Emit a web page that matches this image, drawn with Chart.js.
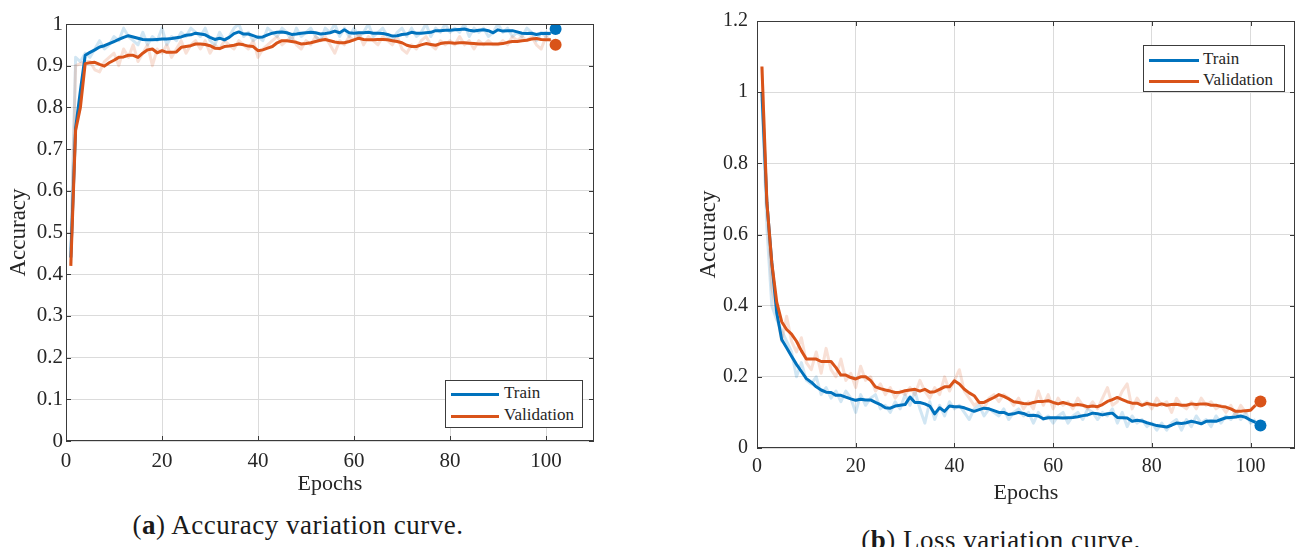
<!DOCTYPE html>
<html><head><meta charset="utf-8">
<script src="https://cdn.jsdelivr.net/npm/chart.js@4.4.1/dist/chart.umd.min.js"></script>
<style>
body{margin:0;background:#fff;width:1301px;height:547px;overflow:hidden;position:relative;font-family:'Liberation Serif',serif;}
canvas{position:absolute;}
.legend{position:absolute;border:1px solid #3c3c3c;background:#fff;font-size:17px;color:#262626;box-sizing:border-box;}
.legend .row{position:absolute;height:20px;line-height:20px;white-space:nowrap;}
.legend .swatch{position:absolute;height:3px;}
.caption{position:absolute;font-family:'Liberation Serif',serif;font-size:27px;letter-spacing:0.5px;color:#1a1a1a;white-space:nowrap;transform:translateX(-50%);}
</style></head><body>
<canvas id="accChart" width="620" height="500" style="left:0;top:0"></canvas>
<canvas id="lossChart" width="604" height="510" style="left:697px;top:0"></canvas>
<div id="accLegend" class="legend" style="left:445px;top:380px;width:138px;height:48px"></div>
<div id="lossLegend" class="legend" style="left:1143px;top:45px;width:142px;height:47px"></div>
<div class="caption" style="left:298px;top:510px">(<b>a</b>) Accuracy variation curve.</div>
<div class="caption" style="left:1001px;top:525px">(<b>b</b>) Loss variation curve.</div>
<script>
// ---------- data ----------
const epochs = Array.from({length: 101}, (_, i) => i + 1);
const seriesNames = ['Train', 'Validation'];
const xTicks = [0, 20, 40, 60, 80, 100];
const accTicks = [0, 0.1, 0.2, 0.3, 0.4, 0.5, 0.6, 0.7, 0.8, 0.9, 1];
const lossTicks = [0, 0.2, 0.4, 0.6, 0.8, 1, 1.2];
const finalEpoch = 102;

const trainAcc = [0.44,0.75,0.84,0.925,0.932,0.938,0.945,0.948,0.953,0.958,0.963,0.968,0.972,0.969,0.966,0.963,0.962,0.962,0.963,0.964,
0.964,0.965,0.967,0.969,0.973,0.974,0.978,0.976,0.974,0.968,0.963,0.966,0.962,0.968,0.977,0.981,0.976,0.976,0.972,0.968,
0.969,0.974,0.978,0.98,0.981,0.979,0.975,0.976,0.978,0.979,0.98,0.979,0.976,0.977,0.979,0.983,0.979,0.986,0.979,0.978,
0.979,0.979,0.98,0.978,0.978,0.977,0.975,0.971,0.972,0.975,0.976,0.98,0.978,0.978,0.979,0.98,0.984,0.984,0.985,0.985,
0.986,0.987,0.988,0.985,0.983,0.985,0.986,0.984,0.979,0.986,0.983,0.984,0.984,0.981,0.978,0.977,0.978,0.975,0.977,0.978,0.977];
const valAcc = [0.42,0.745,0.80,0.905,0.907,0.908,0.903,0.899,0.907,0.913,0.92,0.921,0.925,0.925,0.92,0.93,0.938,0.94,0.931,0.936,
0.932,0.932,0.933,0.944,0.946,0.948,0.952,0.952,0.951,0.948,0.942,0.941,0.946,0.947,0.949,0.952,0.95,0.947,0.946,0.936,
0.938,0.942,0.946,0.955,0.96,0.96,0.958,0.956,0.952,0.953,0.955,0.958,0.961,0.963,0.96,0.957,0.955,0.955,0.958,0.962,
0.966,0.963,0.962,0.962,0.963,0.963,0.962,0.96,0.958,0.955,0.949,0.946,0.946,0.95,0.953,0.951,0.949,0.953,0.955,0.955,
0.954,0.955,0.955,0.954,0.953,0.952,0.952,0.952,0.952,0.952,0.953,0.956,0.958,0.958,0.96,0.961,0.964,0.965,0.963,0.962,0.962];
const trainAccRaw = [0.46,0.92,0.91,0.93,0.92,0.94,0.96,0.94,0.95,0.97,0.96,0.99,0.97,0.96,0.95,0.98,0.95,0.97,0.96,0.99,
0.95,0.97,0.96,0.98,0.97,0.99,0.98,0.97,0.99,0.96,0.95,0.98,0.96,0.97,0.99,1.0,0.97,0.98,0.96,0.97,
0.96,0.99,0.98,0.97,0.99,0.98,0.96,0.99,0.97,0.98,0.99,0.97,0.96,0.99,0.98,1.0,0.97,0.99,0.97,0.99,
0.97,0.98,1.0,0.97,0.98,0.99,0.97,0.96,0.98,0.99,0.97,0.99,0.97,0.98,1.0,0.97,0.99,0.98,1.0,0.98,
0.99,0.98,1.0,0.97,0.99,0.98,0.99,0.97,0.98,1.0,0.98,0.99,0.97,0.98,0.97,0.99,0.98,0.96,0.98,0.97,0.98];
const valAccRaw = [0.42,0.90,0.905,0.91,0.91,0.89,0.885,0.91,0.92,0.93,0.90,0.94,0.92,0.95,0.91,0.93,0.95,0.90,0.94,0.93,
0.95,0.92,0.94,0.96,0.93,0.95,0.96,0.94,0.96,0.93,0.95,0.94,0.96,0.95,0.94,0.96,0.95,0.94,0.96,0.92,
0.94,0.95,0.96,0.97,0.95,0.96,0.97,0.95,0.94,0.96,0.95,0.97,0.96,0.97,0.95,0.93,0.96,0.95,0.97,0.96,
0.98,0.95,0.97,0.96,0.95,0.97,0.96,0.95,0.97,0.94,0.93,0.95,0.94,0.96,0.97,0.95,0.94,0.96,0.95,0.96,
0.95,0.97,0.95,0.96,0.94,0.96,0.95,0.96,0.95,0.95,0.96,0.95,0.97,0.96,0.97,0.96,0.97,0.95,0.94,0.97,0.96];
const finalAcc = [0.988, 0.95];

const trainLoss = [1.00,0.69,0.52,0.38,0.305,0.282,0.258,0.235,0.215,0.195,0.185,0.172,0.163,0.157,0.156,0.148,0.148,0.143,0.138,0.134,
0.137,0.135,0.135,0.128,0.122,0.113,0.112,0.118,0.12,0.122,0.143,0.128,0.128,0.124,0.118,0.096,0.113,0.103,0.118,0.116,
0.116,0.113,0.108,0.103,0.108,0.112,0.11,0.105,0.1,0.1,0.094,0.096,0.1,0.097,0.091,0.092,0.09,0.082,0.085,0.085,
0.085,0.084,0.085,0.086,0.088,0.091,0.093,0.098,0.096,0.093,0.096,0.098,0.086,0.085,0.084,0.075,0.078,0.076,0.071,0.067,
0.063,0.061,0.059,0.064,0.07,0.069,0.071,0.075,0.072,0.068,0.075,0.076,0.075,0.08,0.085,0.086,0.087,0.09,0.086,0.078,0.072];
const valLoss = [1.072,0.69,0.52,0.41,0.355,0.333,0.32,0.30,0.273,0.25,0.25,0.25,0.243,0.243,0.243,0.226,0.205,0.205,0.198,0.194,
0.2,0.2,0.19,0.172,0.167,0.163,0.16,0.156,0.157,0.161,0.163,0.165,0.16,0.165,0.157,0.158,0.165,0.172,0.172,0.189,
0.18,0.165,0.155,0.147,0.128,0.128,0.135,0.142,0.15,0.145,0.138,0.13,0.128,0.125,0.124,0.128,0.131,0.131,0.133,0.128,
0.124,0.128,0.124,0.12,0.122,0.12,0.116,0.118,0.116,0.122,0.131,0.136,0.142,0.136,0.13,0.126,0.126,0.12,0.125,0.122,
0.12,0.124,0.12,0.122,0.123,0.12,0.12,0.124,0.122,0.124,0.124,0.12,0.12,0.117,0.115,0.11,0.103,0.103,0.105,0.106,0.12];
const trainLossRaw = [0.98,0.62,0.40,0.36,0.33,0.30,0.27,0.20,0.24,0.19,0.18,0.20,0.15,0.17,0.14,0.16,0.13,0.16,0.14,0.10,
0.15,0.12,0.14,0.15,0.11,0.12,0.10,0.13,0.11,0.15,0.12,0.16,0.11,0.07,0.13,0.08,0.12,0.09,0.13,0.11,
0.12,0.10,0.08,0.11,0.12,0.09,0.11,0.10,0.09,0.11,0.08,0.10,0.11,0.09,0.10,0.07,0.10,0.08,0.09,0.07,
0.09,0.10,0.07,0.09,0.10,0.08,0.11,0.10,0.08,0.10,0.09,0.11,0.07,0.10,0.06,0.09,0.07,0.08,0.06,0.07,
0.05,0.07,0.05,0.07,0.08,0.05,0.08,0.06,0.09,0.07,0.08,0.06,0.09,0.07,0.09,0.08,0.10,0.08,0.10,0.07,0.08];
const valLossRaw = [1.07,0.70,0.45,0.38,0.30,0.37,0.30,0.27,0.31,0.24,0.22,0.27,0.21,0.28,0.22,0.20,0.25,0.19,0.21,0.17,
0.23,0.19,0.20,0.16,0.18,0.15,0.17,0.14,0.16,0.15,0.17,0.15,0.19,0.16,0.14,0.17,0.15,0.20,0.16,0.19,
0.22,0.16,0.14,0.12,0.13,0.11,0.14,0.15,0.13,0.15,0.14,0.12,0.14,0.11,0.13,0.11,0.16,0.12,0.15,0.11,
0.14,0.12,0.13,0.11,0.14,0.12,0.11,0.13,0.11,0.14,0.17,0.12,0.13,0.16,0.18,0.11,0.14,0.12,0.13,0.11,
0.14,0.12,0.13,0.10,0.14,0.12,0.11,0.13,0.11,0.14,0.12,0.13,0.11,0.12,0.10,0.12,0.09,0.12,0.10,0.11,0.12];
const finalLoss = [0.063, 0.131];

// ---------- styling ----------
const BLUE = '#0072BD', ORANGE = '#D95319';
const BLUE_FAINT = 'rgba(0,114,189,0.18)', ORANGE_FAINT = 'rgba(217,83,25,0.18)';
const TXT = '#262626';

const toXY = arr => arr.map((v, i) => ({x: epochs[i], y: v}));

const boxPlugin = {
  id: 'matlabBox',
  afterDatasetsDraw(chart) {
    const {ctx, chartArea: a, scales: {x, y}} = chart;
    const L = 5;
    ctx.save();
    ctx.strokeStyle = '#3a3a3a';
    ctx.lineWidth = 1;
    ctx.beginPath();
    x.ticks.forEach(t => {
      const p = Math.round(x.getPixelForValue(t.value)) + 0.5;
      ctx.moveTo(p, a.bottom); ctx.lineTo(p, a.bottom - L);
      ctx.moveTo(p, a.top); ctx.lineTo(p, a.top + L);
    });
    y.ticks.forEach(t => {
      const p = Math.round(y.getPixelForValue(t.value)) + 0.5;
      ctx.moveTo(a.left, p); ctx.lineTo(a.left + L, p);
      ctx.moveTo(a.right, p); ctx.lineTo(a.right - L, p);
    });
    ctx.stroke();
    ctx.strokeRect(Math.round(a.left) + 0.5, Math.round(a.top) + 0.5,
                   Math.round(a.right - a.left) - 1, Math.round(a.bottom - a.top) - 1);
    ctx.restore();
  }
};

function makeChart(id, g) {
  const datasets = [
    {label: seriesNames[0], data: [{x: finalEpoch, y: g.final[0]}], showLine: false, pointRadius: 6,
     pointBackgroundColor: BLUE, pointBorderWidth: 0, order: 0, noLegend: true},
    {label: seriesNames[1], data: [{x: finalEpoch, y: g.final[1]}], showLine: false, pointRadius: 6,
     pointBackgroundColor: ORANGE, pointBorderWidth: 0, order: 0, noLegend: true},
    {label: seriesNames[1], data: toXY(g.val), borderColor: ORANGE, borderWidth: 3, order: 1},
    {label: seriesNames[0], data: toXY(g.train), borderColor: BLUE, borderWidth: 3, order: 2},
    {label: seriesNames[1] + ' raw', data: toXY(g.valRaw), borderColor: ORANGE_FAINT, borderWidth: 3, order: 3, noLegend: true},
    {label: seriesNames[0] + ' raw', data: toXY(g.trainRaw), borderColor: BLUE_FAINT, borderWidth: 3, order: 4, noLegend: true}
  ];
  datasets.forEach(d => { d.pointRadius = d.pointRadius || 0; d.tension = 0; d.fill = false; d.borderJoinStyle = 'round'; });
  const chart = new Chart(document.getElementById(id), {
    type: 'line',
    data: {datasets},
    plugins: [boxPlugin],
    options: {
      responsive: false, animation: false, devicePixelRatio: 1,
      layout: {padding: {top: g.padTop, right: g.padRight, left: 0, bottom: 0}},
      plugins: {legend: {display: false}, tooltip: {enabled: false}},
      scales: {
        x: {
          type: 'linear', min: 0, max: g.xMax,
          afterBuildTicks: s => { s.ticks = xTicks.map(v => ({value: v})); },
          afterFit: s => { s.height = g.xAxisH; },
          grid: {color: '#dbdbdb', lineWidth: 1, drawTicks: false},
          border: {display: false},
          ticks: {padding: g.xTickPad, color: TXT, font: {family: 'Liberation Serif', size: g.tickSize},
                  maxRotation: 0, callback: v => String(v)},
          title: {display: true, text: 'Epochs', color: TXT, padding: {top: 0, bottom: g.xTitlePad},
                  font: {family: 'Liberation Serif', size: g.xTitleSize, lineHeight: 1.2}}
        },
        y: {
          min: 0, max: g.yMax,
          afterBuildTicks: s => { s.ticks = g.yTicks.map(v => ({value: v})); },
          afterFit: s => { s.width = g.yAxisW; },
          grid: {color: '#dbdbdb', lineWidth: 1, drawTicks: false},
          border: {display: false},
          ticks: {padding: g.yTickPad, color: TXT, font: {family: 'Liberation Serif', size: g.tickSize},
                  callback: v => String(+v.toFixed(2))},
          title: {display: true, text: 'Accuracy', color: TXT, padding: {top: g.yTitlePad, bottom: 0},
                  font: {family: 'Liberation Serif', size: g.yTitleSize, lineHeight: g.yTitleLH}}
        }
      }
    }
  });
  return chart;
}

function buildLegend(el, chart, lg) {
  const items = chart.data.datasets.filter(d => !d.noLegend).sort((a, b) => seriesNames.indexOf(a.label) - seriesNames.indexOf(b.label));
  items.forEach((d, i) => {
    const cy = lg.rows[i];
    const sw = document.createElement('div');
    sw.className = 'swatch';
    sw.style.cssText = `left:${lg.lineX}px;width:${lg.lineW}px;top:${cy - 1.5}px;background:${d.borderColor}`;
    el.appendChild(sw);
    const r = document.createElement('div');
    r.className = 'row';
    r.style.cssText = `left:${lg.textX}px;top:${cy - 11}px`;
    r.textContent = d.label;
    el.appendChild(r);
  });
}

const accChart = makeChart('accChart', {
  train: trainAcc, val: valAcc, trainRaw: trainAccRaw, valRaw: valAccRaw, final: finalAcc,
  xMax: 110, yMax: 1, yTicks: accTicks, padTop: 24, padRight: 26, xAxisH: 59, yAxisW: 66,
  xTickPad: 8, yTickPad: 3, xTitlePad: 3, yTitlePad: 6, yTitleLH: 1.1, tickSize: 21, xTitleSize: 22, yTitleSize: 23
});
const lossChart = makeChart('lossChart', {
  train: trainLoss, val: valLoss, trainRaw: trainLossRaw, valRaw: valLossRaw, final: finalLoss,
  xMax: 109, yMax: 1.2, yTicks: lossTicks, padTop: 17, padRight: 4, xAxisH: 62, yAxisW: 60,
  xTickPad: 7, yTickPad: 9, xTitlePad: 4, yTitlePad: 0, yTitleLH: 1.0, tickSize: 20, xTitleSize: 22, yTitleSize: 23
});
buildLegend(document.getElementById('accLegend'), accChart, {rows: [13, 35], lineX: 5, lineW: 48, textX: 58});
buildLegend(document.getElementById('lossLegend'), lossChart, {rows: [14, 35], lineX: 5, lineW: 50, textX: 59});
</script>
</body></html>
